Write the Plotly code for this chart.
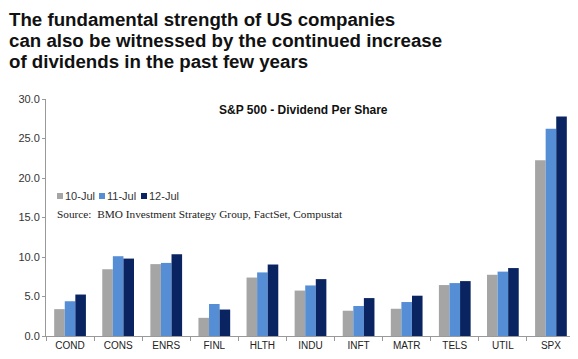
import plotly.graph_objects as go

categories = ["COND", "CONS", "ENRS", "FINL", "HLTH", "INDU", "INFT", "MATR", "TELS", "UTIL", "SPX"]
jul10 = [3.4, 8.45, 9.1, 2.3, 7.4, 5.75, 3.2, 3.45, 6.45, 7.75, 22.25]
jul11 = [4.4, 10.1, 9.25, 4.05, 8.05, 6.4, 3.8, 4.3, 6.7, 8.15, 26.25]
jul12 = [5.25, 9.8, 10.35, 3.35, 9.05, 7.2, 4.8, 5.1, 6.95, 8.6, 27.8]
series_names = ["10-Jul", "11-Jul", "12-Jul"]
colors = ["#A5A5A5", "#558ED5", "#0A2461"]
title_lines = ["The fundamental strength of US companies",
               "can also be witnessed by the continued increase",
               "of dividends in the past few years"]

# page body has an 8px default margin; figure sized so it fits the 578x359 window
W, H = 570, 351
L, R, T, B = 38, 3, 91, 23
PW, PH = W - L - R, H - T - B


def px(X):  # reference-window x pixel -> paper x
    return (X - 8 - L) / PW


def py(Y):  # reference-window y pixel -> paper y
    return (H - B - (Y - 8)) / PH


fig = go.Figure()
for name, vals, c in zip(series_names, [jul10, jul11, jul12], colors):
    fig.add_trace(go.Bar(x=categories, y=vals, name=name, marker=dict(color=c, line=dict(width=0))))

fig.update_layout(
    width=W, height=H,
    margin=dict(l=L, r=R, t=T, b=B, autoexpand=False),
    paper_bgcolor="white", plot_bgcolor="white",
    barmode="group", bargap=0.34, bargroupgap=0,
    font=dict(family="Liberation Sans, Arial, sans-serif", color="#222"),
    showlegend=False,
    xaxis=dict(showline=True, linecolor="#999", linewidth=1, ticks="outside", tickcolor="#999",
               ticklen=4, tickson="boundaries", tickfont=dict(size=10, color="#222"), showgrid=False),
    yaxis=dict(range=[0, 30], dtick=5, tickformat=".1f", showline=True, linecolor="#999",
               linewidth=1, ticks="outside", tickcolor="#999", ticklen=3, showgrid=False,
               zeroline=False, tickfont=dict(size=11, color="#333")),
)

for line, Y in zip(title_lines, [19.5, 40.5, 61.5]):
    fig.add_annotation(
        text="<b>" + line + "</b>", xref="paper", yref="paper", x=px(6.5), y=py(Y),
        xanchor="left", yanchor="middle", align="left", showarrow=False,
        font=dict(family="Liberation Sans, Arial, sans-serif", size=18.7, color="#111"))

fig.add_annotation(
    text="<b>S&P 500 - Dividend Per Share</b>",
    xref="paper", yref="paper", x=px(303), y=py(110), xanchor="center", yanchor="middle",
    showarrow=False, font=dict(family="Liberation Sans Narrow, Arial Narrow, Liberation Sans, sans-serif", size=12, color="#111"))

# legend drawn manually
for name, c, X in zip(series_names, colors, [57, 99, 141]):
    fig.add_shape(type="rect", xref="paper", yref="paper", x0=px(X), x1=px(X + 6),
                  y0=py(199), y1=py(193), fillcolor=c, line=dict(width=0))
    fig.add_annotation(text=name, xref="paper", yref="paper", x=px(X + 6), y=py(196),
                       xanchor="left", yanchor="middle", showarrow=False,
                       font=dict(family="Liberation Sans, Arial, sans-serif", size=11, color="#333"))

fig.add_annotation(
    text="Source:  BMO Investment Strategy Group, FactSet, Compustat",
    xref="paper", yref="paper", x=px(55), y=py(214), xanchor="left", yanchor="middle",
    showarrow=False, font=dict(family="Liberation Serif, Times New Roman, serif", size=11.3, color="#222"))

fig.write_html("out.html")
